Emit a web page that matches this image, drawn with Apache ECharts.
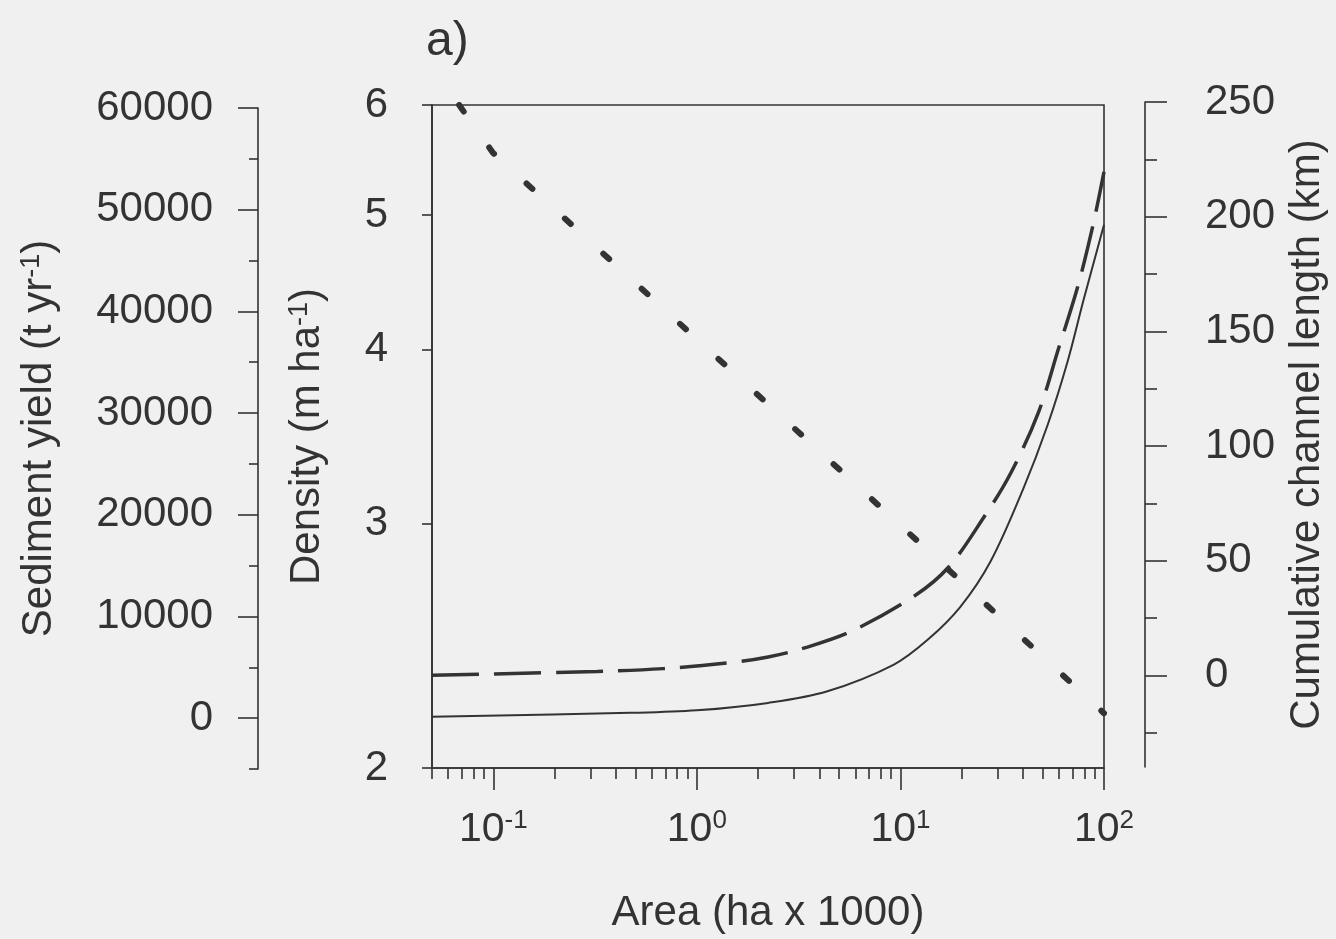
<!DOCTYPE html>
<html>
<head>
<meta charset="utf-8">
<script src="https://cdn.jsdelivr.net/npm/echarts@6/dist/echarts.min.js"></script>
<style>
html, body { margin: 0; padding: 0; background: #f0f0f0; }
#chart { width: 1336px; height: 939px; }
</style>
</head>
<body>
<div id="chart"></div>
<script>
// ---- tick values / labels ----
const xMajorTicks = [0.1, 1, 10, 100];
const xMajorExponents = ['-1', '0', '1', '2'];
const xMinorTicks = [0.05, 0.06, 0.07, 0.08, 0.09,
  0.2, 0.3, 0.4, 0.5, 0.6, 0.7, 0.8, 0.9,
  2, 3, 4, 5, 6, 7, 8, 9,
  20, 30, 40, 50, 60, 70, 80, 90];
const densityTicks = [2, 3, 4, 5, 6];
const sedimentTicks = [0, 10000, 20000, 30000, 40000, 50000, 60000];
const sedimentMinorTicks = [-5000, 5000, 15000, 25000, 35000, 45000, 55000];
const channelTicks = [0, 50, 100, 150, 200, 250];
const channelMinorTicks = [-25, 25, 75, 125, 175, 225];

// ---- series data ----
// Density (m ha-1) vs area (ha x 1000) — dotted line, log-log
const densityArea = [0.068, 0.073, 0.1, 1, 10, 100];
const densityValues = [6.0, 5.91, 5.54, 4.07, 2.99, 2.19];

// Sediment yield (t yr-1) vs area — solid line
const sedimentArea = [0.05, 0.47, 1.0, 2.24, 4.38, 9.24, 13.6, 19.7, 27.7, 40.2, 52.8, 66.2, 79.4, 100];
const sedimentValues = [150, 520, 770, 1500, 2640, 5240, 7700, 10950, 15400, 22600, 28800, 35050, 41140, 48520];

// Cumulative channel length (km) vs area — dashed line
const channelArea = [0.05, 0.324, 0.684, 1.41, 2.24, 3.49, 5.81, 11.85, 17.21, 25.59, 34.74, 47.7, 59.8, 74.2, 87.9, 100];
const channelValues = [0, 1.7, 2.9, 5.4, 8.0, 12.3, 19.4, 34.9, 47.1, 68.7, 88.0, 114.8, 142.5, 169.3, 195.5, 219.5];

const FONT = 'Liberation Sans';
const INK = '#333333';

function pairs(xs, ys) { return xs.map((x, i) => [x, ys[i]]); }

const labelBase = { fontFamily: FONT, color: INK, fontSize: 42 };
const supRich = {
  s: { fontFamily: FONT, color: INK, fontSize: 27, verticalAlign: 'top', lineHeight: 24 }
};
const axisLine = { show: true, lineStyle: { color: INK, width: 1.6 } };
const noSplit = { show: false };

const chart = echarts.init(document.getElementById('chart'), null, { renderer: 'canvas' });

const option = {
  animation: false,
  backgroundColor: '#f0f0f0',
  title: {
    text: 'a)',
    left: 426, top: 18, padding: 0,
    textStyle: { fontFamily: FONT, color: INK, fontSize: 48, fontWeight: 'normal' }
  },
  grid: [
    { left: 432, right: 232, top: 105, bottom: 171, show: true, borderColor: INK, borderWidth: 1.6, backgroundColor: 'transparent', outerBoundsMode: 'none', containLabel: false },
    { left: 432, right: 232, top: 108, bottom: 170, outerBoundsMode: 'none', containLabel: false },
    { left: 432, right: 232, top: 102, bottom: 172, outerBoundsMode: 'none', containLabel: false }
  ],
  xAxis: [
    {
      gridIndex: 0, type: 'log', logBase: 10, min: 0.05, max: 100, position: 'bottom',
      axisLine: axisLine,
      axisTick: { show: true, customValues: xMajorTicks, length: 22, lineStyle: { color: INK, width: 1.6 } },
      axisLabel: {
        show: true, customValues: xMajorTicks, margin: 40,
        formatter: function (v) {
          let idx = 0, best = Infinity;
          xMajorTicks.forEach((t, i) => { const d = Math.abs(Math.log(t) - Math.log(v)); if (d < best) { best = d; idx = i; } });
          return '{b|10}{s|' + xMajorExponents[idx] + '}';
        },
        rich: {
          b: { fontFamily: FONT, color: INK, fontSize: 41, lineHeight: 44 },
          s: { fontFamily: FONT, color: INK, fontSize: 26, verticalAlign: 'top', lineHeight: 24 }
        }
      },
      splitLine: noSplit,
      name: 'Area (ha x 1000)', nameLocation: 'middle', nameGap: 124,
      nameTextStyle: labelBase
    },
    {
      gridIndex: 0, type: 'log', logBase: 10, min: 0.05, max: 100, position: 'bottom',
      axisLine: { show: false },
      axisTick: { show: true, customValues: xMinorTicks, length: 11, lineStyle: { color: INK, width: 1.6 } },
      axisLabel: { show: false },
      splitLine: noSplit
    },
    { gridIndex: 1, type: 'log', logBase: 10, min: 0.05, max: 100, show: false, splitLine: noSplit },
    { gridIndex: 2, type: 'log', logBase: 10, min: 0.05, max: 100, show: false, splitLine: noSplit }
  ],
  yAxis: [
    {
      gridIndex: 0, type: 'log', logBase: 10, min: 2, max: 6, position: 'left', offset: 0,
      axisLine: axisLine,
      axisTick: { show: true, customValues: densityTicks, length: 10, lineStyle: { color: INK, width: 1.6 } },
      axisLabel: { show: true, customValues: densityTicks, margin: 44, fontFamily: FONT, color: INK, fontSize: 42,
        formatter: v => String(Math.round(v)) },
      splitLine: noSplit,
      name: 'Density (m ha{s|-1})', nameLocation: 'middle', nameGap: 104,
      nameTextStyle: Object.assign({}, labelBase, { rich: supRich })
    },
    {
      gridIndex: 1, type: 'value', min: -5000, max: 60000, position: 'left', offset: 174,
      axisLine: axisLine,
      axisTick: { show: true, customValues: sedimentTicks, length: 20, lineStyle: { color: INK, width: 1.6 } },
      axisLabel: { show: true, customValues: sedimentTicks, margin: 45, fontFamily: FONT, color: INK, fontSize: 42,
        formatter: v => String(Math.round(v)) },
      splitLine: noSplit,
      name: 'Sediment yield (t yr{s|-1})', nameLocation: 'middle', nameGap: 198,
      nameTextStyle: Object.assign({}, labelBase, { rich: supRich })
    },
    {
      gridIndex: 1, type: 'value', min: -5000, max: 60000, position: 'left', offset: 174,
      axisLine: { show: false },
      axisTick: { show: true, customValues: sedimentMinorTicks, length: 9, lineStyle: { color: INK, width: 1.6 } },
      axisLabel: { show: false },
      splitLine: noSplit
    },
    {
      gridIndex: 2, type: 'value', min: -40, max: 250, position: 'right', offset: 41,
      axisLine: axisLine,
      axisTick: { show: true, customValues: channelTicks, length: 22, lineStyle: { color: INK, width: 1.6 } },
      axisLabel: { show: true, customValues: channelTicks, margin: 60, fontFamily: FONT, color: INK, fontSize: 42,
        formatter: v => String(Math.round(v)) },
      splitLine: noSplit,
      name: 'Cumulative channel length (km)', nameLocation: 'middle', nameGap: 139,
      nameTextStyle: labelBase
    },
    {
      gridIndex: 2, type: 'value', min: -40, max: 250, position: 'right', offset: 41,
      axisLine: { show: false },
      axisTick: { show: true, customValues: channelMinorTicks, length: 12, lineStyle: { color: INK, width: 1.6 } },
      axisLabel: { show: false },
      splitLine: noSplit
    }
  ],
  series: [
    {
      type: 'line', name: 'Density', xAxisIndex: 0, yAxisIndex: 0,
      data: pairs(densityArea, densityValues),
      symbol: 'none', silent: true,
      lineStyle: { color: INK, width: 6, type: [8, 44], cap: 'round' }
    },
    {
      type: 'line', name: 'Sediment yield', xAxisIndex: 2, yAxisIndex: 1,
      data: pairs(sedimentArea, sedimentValues),
      symbol: 'none', silent: true, smooth: 0.35,
      lineStyle: { color: INK, width: 2 }
    },
    {
      type: 'line', name: 'Cumulative channel length', xAxisIndex: 3, yAxisIndex: 3,
      data: pairs(channelArea, channelValues),
      symbol: 'none', silent: true, smooth: 0.35,
      lineStyle: { color: INK, width: 3.5, type: [47, 15] }
    }
  ]
};
chart.setOption(option);
</script>
</body>
</html>
